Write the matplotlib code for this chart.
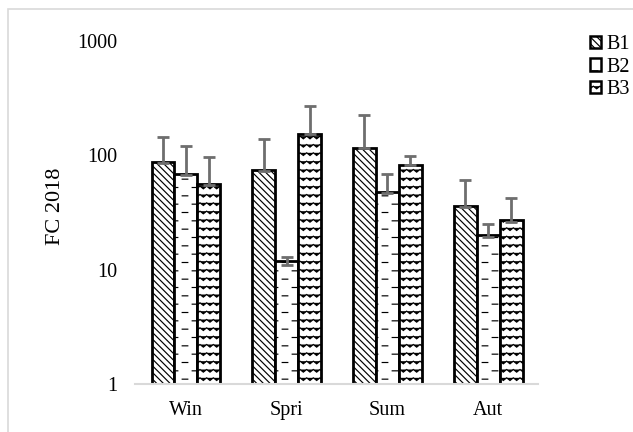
import matplotlib
matplotlib.use("Agg")
import matplotlib.pyplot as plt
import matplotlib.hatch as mhatch
from matplotlib.patches import Rectangle, Patch
from matplotlib.path import Path
import numpy as np

# datos
estaciones = ["Win", "Spri", "Sum", "Aut"]
series = ["B1", "B2", "B3"]
b1 = [86, 73, 116, 35]
b2 = [67, 11, 47, 19.3]
b3 = [55, 154, 82, 26]
b1_err = [59, 66, 109, 26]
b2_err = [54, 1.9, 22, 5.7]
b3_err = [42, 116, 17, 16]


# tramas propias: rayas cortas (d) y zigzag (w)
class Rayas(mhatch.HatchPatternBase):
    NX = 5

    def __init__(self, hatch, density):
        self.num_rows = hatch.count("d") * density
        self.num_vertices = self.num_rows * self.NX * 2

    def set_vertices_and_codes(self, vertices, codes):
        n = self.num_rows
        k = 0
        for i in range(n):
            y = (i + 0.5) / n
            off = 0.0 if i % 2 == 0 else 0.5
            for j in range(self.NX):
                cx = (j + off + 0.25) / self.NX
                vertices[k] = (cx - 0.028, y)
                vertices[k + 1] = (cx + 0.028, y)
                codes[k] = Path.MOVETO
                codes[k + 1] = Path.LINETO
                k += 2


class Zigzag(mhatch.HatchPatternBase):
    NZ = 15

    def __init__(self, hatch, density):
        self.num_rows = hatch.count("w") * density
        self.num_vertices = self.num_rows * (2 * self.NZ + 1)

    def set_vertices_and_codes(self, vertices, codes):
        n = self.num_rows
        k = 0
        amp = 0.16 / n
        for i in range(n):
            y = (i + 0.5) / n
            for j in range(2 * self.NZ + 1):
                x = j / (2 * self.NZ)
                vertices[k] = (x, y + (amp if j % 2 == 0 else -amp))
                codes[k] = Path.MOVETO if j == 0 else Path.LINETO
                k += 1


mhatch._hatch_types.extend([Rayas, Zigzag])

plt.rcParams["font.family"] = ["Liberation Serif", "DejaVu Serif"]
plt.rcParams["hatch.linewidth"] = 0.85

fig = plt.figure(figsize=(6.33, 4.32), dpi=100)
fig.patches.append(Rectangle((8 / 633, -0.1), 1.2, 1 - 9 / 432 + 0.1,
                             transform=fig.transFigure, fill=False,
                             edgecolor="#d9d9d9", lw=1.2))
ax = fig.add_axes([135 / 633, 1 - 384 / 432, 403 / 633, 343 / 432])

x = np.arange(len(estaciones))
w = 0.228
tramas = ["\\\\\\\\\\", "dd", "ww"]
valores = [b1, b2, b3]
errores = [b1_err, b2_err, b3_err]
handles = []
for i, (s, v, e, h) in enumerate(zip(series, valores, errores, tramas)):
    pos = x + (i - 1) * w
    ax.bar(pos, v, w, bottom=1, color="white", edgecolor="black", lw=2,
           hatch=h, zorder=2)
    ax.errorbar(pos, v, yerr=[np.zeros(len(e)), e], fmt="none",
                ecolor="#6e6e6e", elinewidth=2, capsize=4.3, capthick=2,
                zorder=3)
    handles.append(Patch(facecolor="white", edgecolor="black", lw=1.8,
                         hatch=h, label=s))

ax.set_yscale("log")
ax.set_ylim(1, 1000)
ax.set_xlim(-0.506, 3.495)
ax.set_xticks(x)
ax.set_xticklabels(estaciones, fontsize=14.5)
ax.set_yticks([1, 10, 100, 1000])
ax.set_yticklabels(["1", "10", "100", "1000"], fontsize=14.5)
ax.minorticks_off()
ax.tick_params(length=0)
ax.tick_params(axis="x", pad=12)
ax.tick_params(axis="y", pad=13)
for sp in ["top", "right", "left"]:
    ax.spines[sp].set_visible(False)
ax.spines["bottom"].set_color("#d9d9d9")
ax.spines["bottom"].set_linewidth(1.5)
ax.set_ylabel("FC 2018", fontsize=16)
ax.yaxis.set_label_coords(-70 / 403, (384 - 206) / 343)

fig.legend(handles=handles, loc="upper left", bbox_to_anchor=(590 / 633, 1 - 35 / 432),
           frameon=False, fontsize=14.5, handlelength=0.55, handleheight=0.55,
           handletextpad=0.25, labelspacing=0.18, borderaxespad=0, borderpad=0)

fig.savefig("out.png", dpi=100)
